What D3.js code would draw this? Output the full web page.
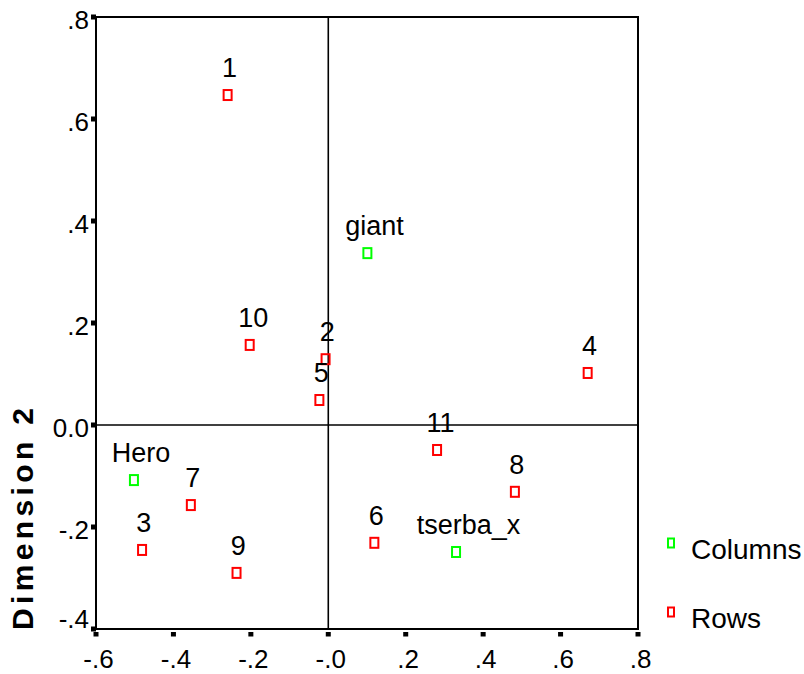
<!DOCTYPE html>
<html>
<head>
<meta charset="utf-8">
<script src="https://cdn.jsdelivr.net/npm/d3@7"></script>
<style>
  body { margin: 0; background: #fff; }
  text { font-family: "Liberation Sans", Arial, sans-serif; fill: #000; }
</style>
</head>
<body>
<script>
// Row points (red)
const rowLabels = ['1', '2', '3', '4', '5', '6', '7', '8', '9', '10', '11'];
const rowX = [-0.260, -0.007, -0.481, 0.670, -0.023, 0.119, -0.355, 0.482, -0.237, -0.203, 0.281];
const rowY = [0.647, 0.129, -0.245, 0.102, 0.049, -0.231, -0.157, -0.131, -0.290, 0.157, -0.049];

// Column points (green)
const colLabels = ['Hero', 'giant', 'tserba_x'];
const colX = [-0.502, 0.101, 0.330];
const colY = [-0.108, 0.337, -0.249];

const xTicks = [-0.6, -0.4, -0.2, 0, 0.2, 0.4, 0.6, 0.8];
const xTickLabels = ['-.6', '-.4', '-.2', '-.0', '.2', '.4', '.6', '.8'];
const yTicks = [-0.4, -0.2, 0, 0.2, 0.4, 0.6, 0.8];
const yTickLabels = ['-.4', '-.2', '0.0', '.2', '.4', '.6', '.8'];

const legendNames = ['Columns', 'Rows'];
const legendColors = ['#00ff00', '#ff0000'];

const WIDTH = 804;
const HEIGHT = 674;

const x = d3.scaleLinear().domain([-0.6, 0.8]).range([96, 638]);
const y = d3.scaleLinear().domain([-0.4, 0.8]).range([629, 17]);

const svg = d3.select('body').append('svg')
    .attr('width', WIDTH)
    .attr('height', HEIGHT);

// frame
svg.append('rect')
    .attr('x', x(-0.6)).attr('y', y(0.8))
    .attr('width', x(0.8) - x(-0.6)).attr('height', y(-0.4) - y(0.8))
    .attr('fill', 'none').attr('stroke', '#000').attr('stroke-width', 2);

// zero lines
svg.append('line')
    .attr('x1', x(0)).attr('x2', x(0)).attr('y1', y(0.8)).attr('y2', y(-0.4))
    .attr('stroke', '#000').attr('stroke-width', 1.6);
svg.append('line')
    .attr('x1', x(-0.6)).attr('x2', x(0.8)).attr('y1', y(0)).attr('y2', y(0))
    .attr('stroke', '#000').attr('stroke-width', 1.6);

// x ticks
svg.selectAll('.xtick')
    .data(xTicks)
    .enter().append('rect')
    .attr('x', d => x(d) - 2.5).attr('y', 632)
    .attr('width', 5).attr('height', 4.5)
    .attr('fill', '#000');

svg.selectAll('.xlab')
    .data(xTicks)
    .enter().append('text')
    .attr('x', d => x(d) + 2.5).attr('y', 668)
    .attr('text-anchor', 'middle')
    .attr('font-size', 26)
    .text((d, i) => xTickLabels[i]);

// y ticks
svg.selectAll('.ytick')
    .data(yTicks)
    .enter().append('rect')
    .attr('x', 91).attr('y', d => y(d) - 2.5)
    .attr('width', 5).attr('height', 5)
    .attr('fill', '#000');

svg.selectAll('.ylab')
    .data(yTicks)
    .enter().append('text')
    .attr('x', 89).attr('y', d => Math.min(y(d) + 12, y(-0.4) - 1))
    .attr('text-anchor', 'end')
    .attr('font-size', 26)
    .text((d, i) => yTickLabels[i]);

// y axis title
svg.append('text')
    .attr('transform', 'translate(33,519) rotate(-90)')
    .attr('text-anchor', 'middle')
    .attr('font-size', 30)
    .attr('font-weight', 'bold')
    .attr('textLength', 222)
    .attr('lengthAdjust', 'spacing')
    .text('Dimension 2');

const drawPoints = (labels, xs, ys, color) => {
    const pts = labels.map((l, i) => ({ label: l, x: xs[i], y: ys[i] }));
    const g = svg.append('g');
    g.selectAll('rect')
        .data(pts)
        .enter().append('rect')
        .attr('x', d => x(d.x) - 4).attr('y', d => y(d.y) - 5)
        .attr('width', 8).attr('height', 10)
        .attr('fill', 'none').attr('stroke', color).attr('stroke-width', 2);
    g.selectAll('text')
        .data(pts)
        .enter().append('text')
        .attr('font-size', 27)
        .attr('y', d => y(d.y) - 18)
        .text(d => d.label)
        .attr('x', function (d) {
            return x(d.x) - 0.38 * this.getComputedTextLength();
        });
};

drawPoints(rowLabels, rowX, rowY, '#ff0000');
drawPoints(colLabels, colX, colY, '#00ff00');

// legend
const legend = svg.selectAll('.leg')
    .data(legendNames)
    .enter().append('g')
    .attr('transform', (d, i) => `translate(671, ${543 + i * 69})`);

legend.append('rect')
    .attr('x', -3).attr('y', -4.5)
    .attr('width', 6).attr('height', 9)
    .attr('fill', 'none')
    .attr('stroke', (d, i) => legendColors[i])
    .attr('stroke-width', 2);

legend.append('text')
    .attr('x', 20).attr('y', 16)
    .attr('font-size', 28)
    .text(d => d);
</script>
</body>
</html>
